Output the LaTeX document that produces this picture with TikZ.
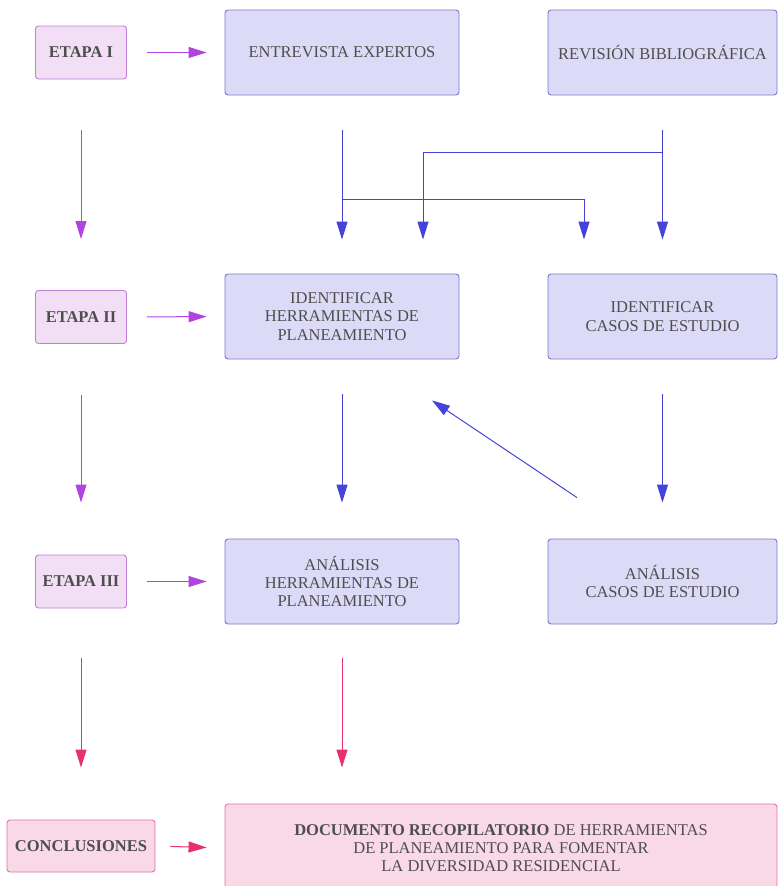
\documentclass[tikz,border=0pt]{standalone}
\usepackage{fontspec}
\setmainfont{Liberation Serif}
\usetikzlibrary{arrows.meta}

\definecolor{stagefill}{HTML}{F2DFF5}
\definecolor{stageline}{HTML}{C27ED6}
\definecolor{taskfill}{HTML}{DCDAF6}
\definecolor{taskline}{HTML}{7A78C6}
\definecolor{endfill}{HTML}{F9D8E8}
\definecolor{endline}{HTML}{E074A4}
\definecolor{txt}{HTML}{4E4E4E}
\definecolor{purplearr}{HTML}{B044E0}
\definecolor{bluearr}{HTML}{4444D8}
\definecolor{pinkarr}{HTML}{E8306C}

\tikzset{
  box/.style={draw, rounded corners=3pt, line width=0.9pt, text=txt,
    align=center, font=\fontsize{16.5}{18.3}\selectfont},
  stage/.style={box, draw=stageline, fill=stagefill, minimum width=91pt,
    minimum height=53pt, font=\bfseries\fontsize{16.5}{18.3}\selectfont},
  task/.style={box, draw=taskline, fill=taskfill, minimum width=234pt,
    minimum height=85pt},
  result/.style={box, draw=endline, fill=endfill},
  arr/.style={line width=1pt, -{Triangle[length=18pt,width=11pt]}},
  parrow/.style={arr, draw=purplearr},
  barrow/.style={arr, draw=bluearr},
  rarrow/.style={arr, draw=pinkarr}
}

\begin{document}
\begin{tikzpicture}[x=1pt, y=-1pt]
    \useasboundingbox (0,0) rectangle (777,886);
    % stage column
    \node[stage] (et1) at (81,52.5) {ETAPA I};
    \node[stage] (et2) at (81,317) {ETAPA II};
    \node[stage] (et3) at (81,581.5) {ETAPA III};
    \node[result, minimum width=148pt, minimum height=52pt,
      font=\bfseries\fontsize{16.5}{18.3}\selectfont] (conc) at (81,846) {CONCLUSIONES};
    % tasks
    \node[task] (ent) at (342,52.5) {ENTREVISTA EXPERTOS};
    \node[task, minimum width=229pt] (rev) at (662.5,52.5) {REVISIÓN BIBLIOGRÁFICA};
    \node[task] (idh) at (342,316.5) {IDENTIFICAR\\HERRAMIENTAS DE\\PLANEAMIENTO};
    \node[task, minimum width=229pt] (idc) at (662.5,316.5) {IDENTIFICAR\\CASOS DE ESTUDIO};
    \node[task] (anh) at (342,581.5) {ANÁLISIS\\HERRAMIENTAS DE\\PLANEAMIENTO};
    \node[task, minimum width=229pt] (anc) at (662.5,581.5) {ANÁLISIS\\CASOS DE ESTUDIO};
    \node[result, minimum width=552pt, minimum height=88pt] (doc) at (501,848)
      {\textbf{DOCUMENTO RECOPILATORIO} DE HERRAMIENTAS\\DE PLANEAMIENTO PARA FOMENTAR\\LA DIVERSIDAD RESIDENCIAL};

    % stage arrows
    \draw[parrow, shorten <=20pt, shorten >=18pt] (et1.east) -- (ent.west);
    \draw[parrow, shorten <=20pt, shorten >=18pt] (et2.east) -- (idh.west);
    \draw[parrow, shorten <=20pt, shorten >=18pt] (et3.east) -- (anh.west);
    \draw[rarrow, shorten <=15pt, shorten >=18pt] (conc.east) -- (doc.west);
    \draw[parrow, shorten <=51pt, shorten >=51pt] (et1.south) -- (et2.north);
    \draw[parrow, shorten <=51pt, shorten >=52pt] (et2.south) -- (et3.north);
    \draw[rarrow, shorten <=50pt, shorten >=52pt] (et3.south) -- (conc.north);

    % task arrows
    \draw[barrow, shorten <=35pt, shorten >=34pt] (ent.south) -- (idh.north);
    \draw[barrow, shorten <=35pt, shorten >=34pt] (rev.south) -- (idc.north);
    \draw[barrow, shorten >=34pt] (ent.south |- 0,199) -| ([xshift=-78.5pt]idc.north);
    \draw[barrow, shorten >=34pt] (rev.south |- 0,152) -| ([xshift=81pt]idh.north);
    \draw[barrow, shorten <=35pt, shorten >=36pt] (idh.south) -- (anh.north);
    \draw[barrow, shorten <=35pt, shorten >=36pt] (idc.south) -- (anc.north);
    \draw[barrow] ([xshift=-85.5pt, yshift=41pt]anc.north) -- ([xshift=90pt, yshift=-41pt]idh.south);
    \draw[rarrow, shorten <=34pt, shorten >=36pt] (anh.south) -- (anh.south |- doc.north);
\end{tikzpicture}
\end{document}
